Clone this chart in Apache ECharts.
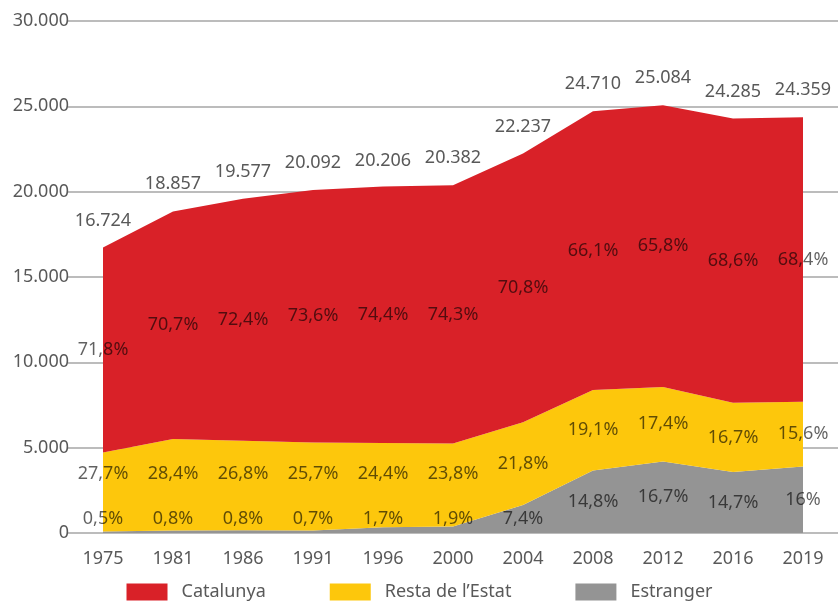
<!DOCTYPE html>
<html>
<head>
<meta charset="utf-8">
<script src="https://cdn.jsdelivr.net/npm/echarts@6/dist/echarts.min.js"></script>
<style>
  html, body { margin: 0; padding: 0; background: #fff; }
  #chart { width: 839px; height: 601px; }
</style>
</head>
<body>
<div id="chart"></div>
<script>
// dades
var years = ['1975', '1981', '1986', '1991', '1996', '2000', '2004', '2008', '2012', '2016', '2019'];
var totals = [16724, 18857, 19577, 20092, 20206, 20382, 22237, 24710, 25084, 24285, 24359];
var catalunya = [12008, 13332, 14174, 14788, 15033, 15144, 15744, 16333, 16505, 16660, 16662];
var resta = [4633, 5355, 5247, 5164, 4930, 4851, 4848, 4720, 4365, 4056, 3800];
var estranger = [84, 151, 157, 141, 344, 387, 1646, 3657, 4189, 3570, 3897];
var pctCatalunya = [71.8, 70.7, 72.4, 73.6, 74.4, 74.3, 70.8, 66.1, 65.8, 68.6, 68.4];
var pctResta = [27.7, 28.4, 26.8, 25.7, 24.4, 23.8, 21.8, 19.1, 17.4, 16.7, 15.6];
var pctEstranger = [0.5, 0.8, 0.8, 0.7, 1.7, 1.9, 7.4, 14.8, 16.7, 14.7, 16];

var FONT = '"Noto Sans", sans-serif';
var grey = '#595959';

function miles(v) {
    return String(v).replace(/\B(?=(\d{3})+(?!\d))/g, '.');
}
function pct(v) {
    return String(v).replace('.', ',') + '%';
}

var chart = echarts.init(document.getElementById('chart'));

function areaSeries(name, data, color) {
    return {
        name: name,
        type: 'line',
        stack: 'total',
        data: data,
        symbol: 'none',
        lineStyle: { width: 0 },
        itemStyle: { color: color },
        areaStyle: { color: color, opacity: 1 },
        emphasis: { disabled: true },
        silent: true
    };
}

var option = {
    animation: false,
    backgroundColor: '#fff',
    grid: { left: 68, right: 1, top: 21, bottom: 68 },
    legend: {
        data: ['Catalunya', 'Resta de l\u2019Estat', 'Estranger'],
        left: 'center',
        top: 578,
        icon: 'rect',
        itemWidth: 41,
        itemHeight: 17,
        itemGap: 64,
        textStyle: { color: grey, fontSize: 18, fontFamily: FONT, padding: [0, 0, 0, 9] }
    },
    xAxis: {
        type: 'category',
        data: years,
        boundaryGap: true,
        axisLine: { show: false },
        axisTick: { show: false },
        axisLabel: { color: grey, fontSize: 18, fontFamily: FONT, margin: 17 }
    },
    yAxis: {
        type: 'value',
        min: 0,
        max: 30000,
        interval: 5000,
        axisLine: { show: false },
        axisTick: { show: false },
        axisLabel: { color: grey, fontSize: 18, fontFamily: FONT, margin: -1, formatter: miles },
        splitLine: { lineStyle: { color: '#a6a6a6', width: 1.5 } }
    },
    series: [
        areaSeries('Estranger', estranger, '#949494'),
        areaSeries('Resta de l\u2019Estat', resta, '#fdc70c'),
        areaSeries('Catalunya', catalunya, '#d92128'),
        {
            // etiquetes: totals i percentatges
            type: 'custom',
            silent: true,
            z: 10,
            clip: false,
            data: years.map(function (y, i) { return [i, totals[i]]; }),
            renderItem: function (params, api) {
                var i = params.dataIndex;
                var base = api.coord([i, 0]);
                var x = base[0];
                function yOf(v) { return api.coord([i, v])[1]; }
                var gY = Math.min(yOf(estranger[i] / 2), base[1] - 14);
                var rY = Math.min(yOf(estranger[i] + resta[i] / 2), gY - 45);
                var cY = yOf(estranger[i] + resta[i] + catalunya[i] / 2);
                var tY = yOf(totals[i]) - 27;
                function txt(t, y, col) {
                    return {
                        type: 'text',
                        style: {
                            text: t, x: x, y: y, fill: col,
                            font: '18px ' + FONT,
                            align: 'center', verticalAlign: 'middle'
                        }
                    };
                }
                var ink = 'rgba(0,0,0,0.62)';
                return {
                    type: 'group',
                    children: [
                        txt(miles(totals[i]), tY, grey),
                        txt(pct(pctCatalunya[i]), cY, ink),
                        txt(pct(pctResta[i]), rY, ink),
                        txt(pct(pctEstranger[i]), gY, ink)
                    ]
                };
            }
        }
    ]
};

chart.setOption(option);
</script>
</body>
</html>
